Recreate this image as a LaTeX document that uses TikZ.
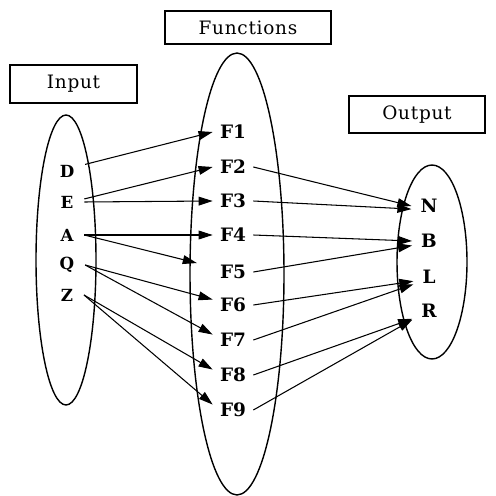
\documentclass[tikz,border=0pt]{standalone}
\usepackage{fontspec}
\setmainfont{DejaVu Serif}
\newfontfamily\boxfont[LetterSpace=4]{DejaVu Serif}
\usetikzlibrary{arrows.meta,shapes.geometric}
\begin{document}
\begin{tikzpicture}[x=0.02cm, y=-0.02cm,
  every node/.style={font=\fontsize{10.5}{12}\selectfont\bfseries},
  titlebox/.style={draw, line width=0.8pt, font=\boxfont\fontsize{10.5}{12}\selectfont},
  set/.style={draw, ellipse, line width=0.8pt, inner sep=0pt},
  elem/.style={inner xsep=4pt, inner ysep=1pt},
  arr/.style={-{Triangle[length=8pt,width=5pt]}, line width=0.6pt}]
\useasboundingbox (0,0) rectangle (496,496);
\node[titlebox, minimum width=3.32cm, minimum height=0.66cm] (funcs) at (248,27.5) {Functions};
\node[titlebox, minimum width=2.54cm, minimum height=0.76cm] (inp) at (73.5,84) {Input};
\node[titlebox, minimum width=2.72cm, minimum height=0.74cm] (outp) at (417,114.5) {Output};
\node[set, minimum width=1.2cm, minimum height=5.8cm] (inset) at (66,260) {};
\node[set, minimum width=1.88cm, minimum height=8.84cm] (fset) at (237,274) {};
\node[set, minimum width=1.4cm, minimum height=3.88cm] (oset) at (432,262) {};
\node[elem, inner xsep=6pt, font=\fontsize{9.5}{11}\selectfont\bfseries] (d) at (67,171) {D};
\node[elem, inner xsep=6pt, font=\fontsize{9.5}{11}\selectfont\bfseries] (e) at (67,202) {E};
\node[elem, inner xsep=6pt, font=\fontsize{9.5}{11}\selectfont\bfseries] (a) at (67,235) {A};
\node[elem, inner xsep=6pt, font=\fontsize{9.5}{11}\selectfont\bfseries] (q) at (67,265) {Q};
\node[elem, inner xsep=6pt, font=\fontsize{9.5}{11}\selectfont\bfseries] (z) at (67,295) {Z};
\node[elem] (f1) at (233,132) {F1};
\node[elem] (f2) at (233,167) {F2};
\node[elem] (f3) at (233,201) {F3};
\node[elem] (f4) at (233,235) {F4};
\node[elem] (f5) at (233,272) {F5};
\node[elem] (f6) at (233,305) {F6};
\node[elem] (f7) at (233,340) {F7};
\node[elem] (f8) at (233,375) {F8};
\node[elem] (f9) at (233,410) {F9};
\node[elem, inner xsep=5pt] (n) at (429,206) {N};
\node[elem, inner xsep=5pt] (b) at (429,241) {B};
\node[elem, inner xsep=5pt] (l) at (429,277) {L};
\node[elem, inner xsep=5pt] (r) at (429,311) {R};
\draw[arr] (d.20) -- (f1.west);
\draw[arr] (e.10) -- (f2.west);
\draw[arr] (e.east) -- (f3.west);
\draw[arr] (a.east) -- (f4.west);
\draw[arr] (a.east) -- ([xshift=-9pt]f5.north west);
\draw[arr] (q.east) -- (f6.165);
\draw[arr] (q.east) -- (f7.165);
\draw[arr] (z.east) -- (f8.165);
\draw[arr] (z.east) -- (f9.165);
\draw[arr] (f2.east) -- (n.west);
\draw[arr] (f3.east) -- (n.190);
\draw[arr] (f4.east) -- (b.west);
\draw[arr] (f5.east) -- (b.195);
\draw[arr] (f6.east) -- (l.195);
\draw[arr] (f7.east) -- (l.205);
\draw[arr] (f8.east) -- (r.205);
\draw[arr] (f9.east) -- (r.south west);
\end{tikzpicture}
\end{document}
